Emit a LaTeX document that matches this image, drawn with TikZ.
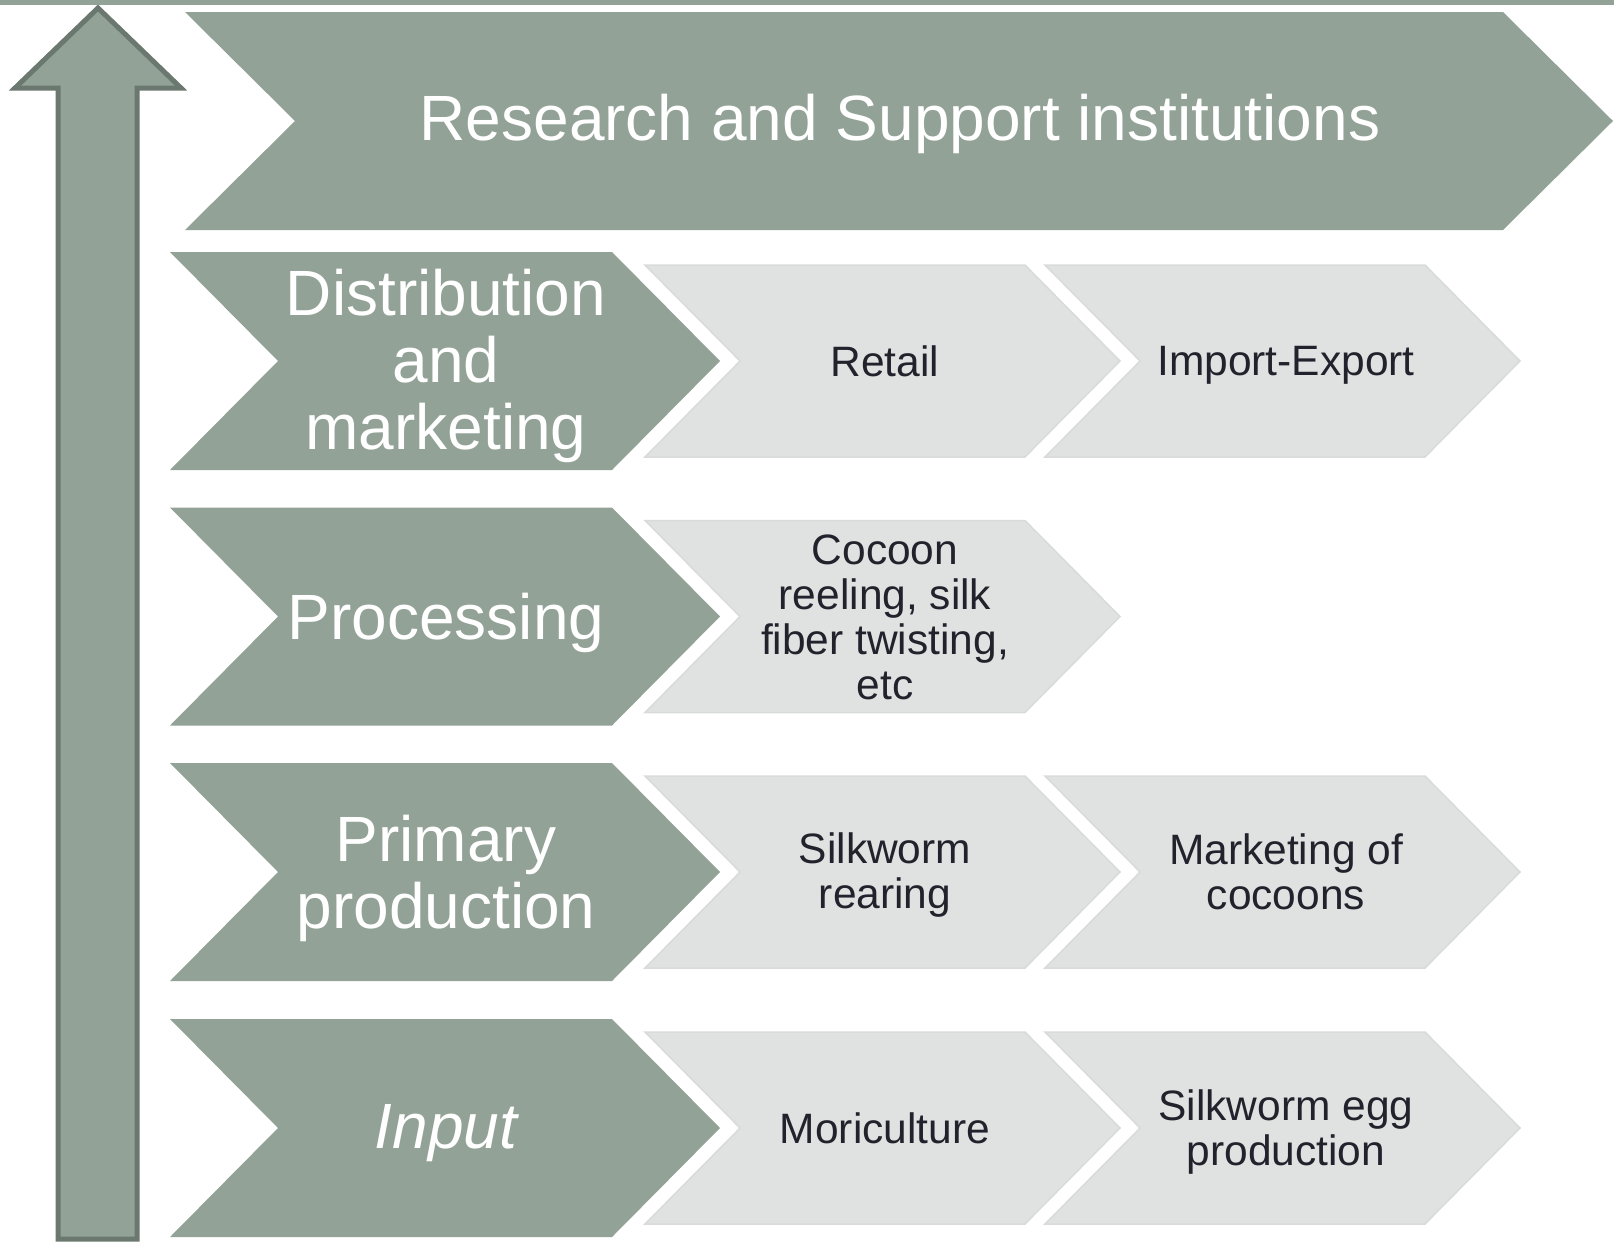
\documentclass[tikz,border=0pt]{standalone}
\usepackage{fontspec}
\setmainfont{Liberation Sans}
\definecolor{dkfill}{HTML}{92A297}
\definecolor{dkline}{HTML}{6B786F}
\definecolor{ltfill}{HTML}{DFE2E0}
\definecolor{ltline}{HTML}{D8DBD9}
\definecolor{txtdk}{HTML}{22222C}
\newcommand\chevshape[6]{%
  \path[#6] (#1,#2) -- (#3,#2) -- ({#3+#5},{(#2+#4)/2}) -- (#3,#4) -- (#1,#4) -- ({#1+#5},{(#2+#4)/2}) -- cycle;}
\tikzset{
  darkchev/.style={fill=dkfill},
  lightchev/.style={fill=ltfill, draw=ltline, line width=1.5pt, line join=miter},
  bigtxt/.style={text=white, align=center, font=\fontsize{64}{67}\selectfont, inner sep=0pt},
  smalltxt/.style={text=txtdk, align=center, font=\fontsize{42.5}{45}\selectfont, inner sep=0pt},
}
\begin{document}
\begin{tikzpicture}[x=1pt,y=-1pt]
\useasboundingbox (0,0) rectangle (1614,1242);
% top bar
\fill[dkfill] (0,0) rectangle (1614,5);
% up arrow
\draw[fill=dkfill, draw=dkline, line width=5pt, line join=miter]
  (98,8) -- (181,88) -- (137,88) -- (137,1239) -- (58,1239) -- (58,88) -- (15,88) -- cycle;
% research chevron
\chevshape{185}{12}{1503}{230}{110}{darkchev}
\node[bigtxt] (research) at (900,124) {Research and Support institutions};
% Distribution
\chevshape{170}{252}{612}{470}{108}{darkchev}
\node[bigtxt] (dist) at (446,366) {Distribution\\and\\marketing};
\chevshape{645}{265}{1025}{457}{95}{lightchev}
\node[smalltxt] (retail) at (885,361) {Retail};
\chevshape{1045}{265}{1425}{457}{95}{lightchev}
\node[smalltxt] (impexp) at (1286,365) {Import-Export};
% Processing
\chevshape{170}{507.5}{612}{725.5}{108}{darkchev}
\node[bigtxt] (proc) at (446,622.5) {Processing};
\chevshape{645}{520.5}{1025}{712.5}{95}{lightchev}
\node[smalltxt] (cocoon) at (885,617) {Cocoon\\reeling, silk\\fiber twisting,\\etc};
% Primary production
\chevshape{170}{763}{612}{981}{108}{darkchev}
\node[bigtxt] (prim) at (446,878) {Primary\\production};
\chevshape{645}{776}{1025}{968}{95}{lightchev}
\node[smalltxt] (rear) at (885,875) {Silkworm\\rearing};
\chevshape{1045}{776}{1425}{968}{95}{lightchev}
\node[smalltxt] (mkt) at (1286,872) {Marketing of\\cocoons};
% Input
\chevshape{170}{1019}{612}{1237}{108}{darkchev}
\node[bigtxt, font=\fontsize{64}{67}\selectfont\itshape] (input) at (446,1133) {Input};
\chevshape{645}{1032}{1025}{1224}{95}{lightchev}
\node[smalltxt] (mori) at (885,1128) {Moriculture};
\chevshape{1045}{1032}{1425}{1224}{95}{lightchev}
\node[smalltxt] (egg) at (1286,1132) {Silkworm egg\\production};
\end{tikzpicture}
\end{document}
